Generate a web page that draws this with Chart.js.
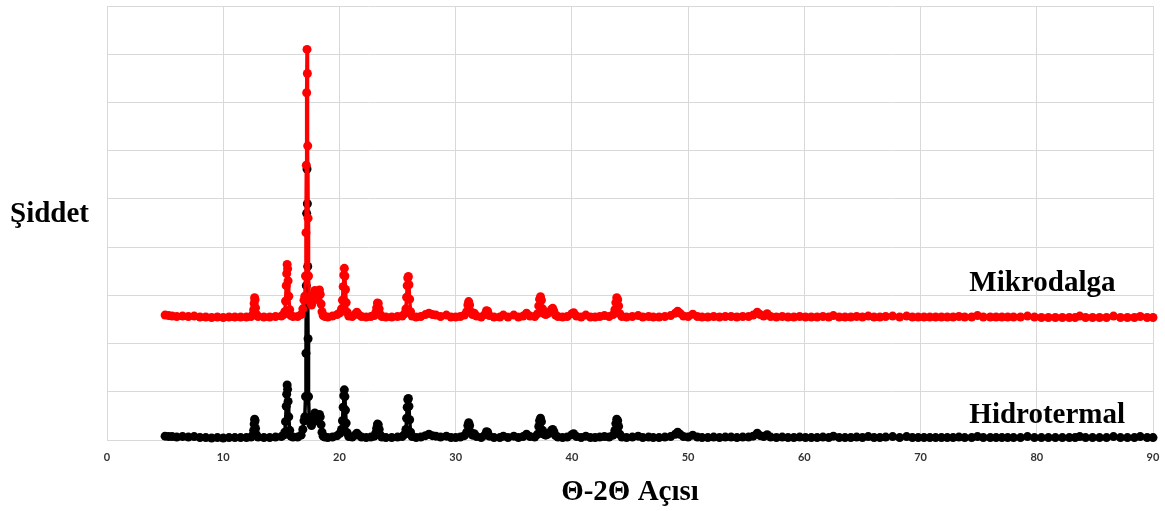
<!DOCTYPE html>
<html>
<head>
<meta charset="utf-8">
<script src="https://cdn.jsdelivr.net/npm/chart.js@4/dist/chart.umd.min.js"></script>
<style>
  html, body { margin: 0; padding: 0; background: #fff; }
  #wrap { width: 1165px; height: 511px; }
</style>
</head>
<body>
<div id="wrap"><canvas id="xrd" width="1165" height="511"></canvas></div>
<script>
// 2θ angles (shared by both patterns)
const angles = [
  5.0, 5.3, 5.6, 6.0, 6.5, 7.0, 7.5, 8.0, 8.5, 9.0, 9.5, 10.0, 10.5, 11.0, 11.5, 12.0, 12.4,
  12.55, 12.62, 12.66, 12.70, 12.74, 12.78, 12.85, 13.0,
  13.5, 14.0, 14.5, 15.0, 15.2,
  15.3, 15.36, 15.42, 15.46, 15.5, 15.54, 15.58, 15.64, 15.72, 15.82,
  16.0, 16.4, 16.7, 16.85,
  16.95, 17.02, 17.08, 17.12, 17.15, 17.18, 17.21, 17.24, 17.27, 17.3, 17.34, 17.4,
  17.5, 17.6, 17.7, 17.8, 17.88, 17.96, 18.04, 18.12, 18.2, 18.28, 18.35, 18.42, 18.5, 18.6, 18.75,
  19.0, 19.4, 19.8, 20.05,
  20.18, 20.26, 20.32, 20.37, 20.42, 20.47, 20.52, 20.58, 20.66, 20.8,
  21.1, 21.35, 21.5, 21.65, 21.9, 22.3, 22.7, 23.0,
  23.12, 23.2, 23.27, 23.34, 23.42, 23.52, 23.65,
  24.0, 24.5, 25.0, 25.4, 25.62,
  25.72, 25.78, 25.83, 25.88, 25.93, 25.98, 26.04, 26.12, 26.25,
  26.6, 27.0, 27.4, 27.7, 28.0, 28.3, 28.7, 29.2, 29.6, 30.0, 30.4, 30.75,
  30.95, 31.05, 31.12, 31.2, 31.3, 31.45, 31.6, 31.8, 32.2, 32.5, 32.65, 32.75, 32.9, 33.3,
  33.8, 34.1, 34.5, 35.0, 35.4, 35.8, 36.1, 36.4, 36.8,
  37.05, 37.15, 37.22, 37.3, 37.38, 37.48, 37.6, 37.75, 37.9, 38.1, 38.25, 38.35, 38.45, 38.6, 38.8,
  39.2, 39.6, 40.0, 40.15, 40.4, 40.8, 41.2, 41.6, 42.0, 42.4, 42.8, 43.2, 43.55,
  43.7, 43.78, 43.86, 43.94, 44.02, 44.12, 44.3,
  44.7, 45.2, 45.7, 46.1, 46.6, 47.0, 47.5, 48.0, 48.5, 48.9, 49.1, 49.3, 49.6, 50.0, 50.4, 50.8,
  51.2, 51.7, 52.2, 52.7, 53.2, 53.7, 54.2, 54.7, 55.2, 55.6, 55.95, 56.2, 56.5, 56.8, 57.1, 57.6, 58.1, 58.6, 59.1, 59.6, 60.1,
  60.6, 61.1, 61.6, 62.1, 62.5, 63.0, 63.5, 64.0, 64.5, 65.0, 65.5, 66.0, 66.5, 67.0, 67.6, 68.2, 68.8, 69.3, 69.8,
  70.3, 70.8, 71.3, 71.8, 72.3, 72.8, 73.3, 73.8, 74.4, 74.9, 75.4, 76.0, 76.5, 77.0, 77.5, 78.0, 78.6, 79.2, 79.8,
  80.4, 81.0, 81.6, 82.2, 82.8, 83.3, 83.7, 84.2, 84.8, 85.4, 86.0, 86.6, 87.2, 87.8, 88.4, 88.9, 89.5, 90.0
]

// intensity, hydrothermal sample (lower trace)
const hidrotermal = [
  0.08, 0.07, 0.07, 0.06, 0.07, 0.06, 0.07, 0.05, 0.05, 0.04, 0.05, 0.04, 0.05, 0.05, 0.05, 0.05, 0.06,
  0.10, 0.20, 0.33, 0.43, 0.40, 0.24, 0.11, 0.06,
  0.05, 0.05, 0.06, 0.07, 0.10,
  0.16, 0.38, 0.70, 0.95, 1.14, 1.05, 0.80, 0.48, 0.20, 0.08,
  0.06, 0.06, 0.10, 0.22,
  0.40, 0.48, 0.90, 1.80, 3.20, 4.70, 5.62, 4.90, 3.60, 2.10, 0.90, 0.45,
  0.35, 0.30, 0.38, 0.50, 0.56, 0.52, 0.40, 0.42, 0.50, 0.53, 0.48, 0.32, 0.16, 0.08, 0.06,
  0.05, 0.06, 0.09, 0.14,
  0.22, 0.40, 0.68, 0.92, 1.04, 0.90, 0.62, 0.35, 0.15, 0.07,
  0.06, 0.10, 0.14, 0.10, 0.06, 0.05, 0.06, 0.08,
  0.14, 0.24, 0.33, 0.32, 0.22, 0.10, 0.06,
  0.05, 0.05, 0.06, 0.07, 0.12,
  0.22, 0.45, 0.68, 0.84, 0.86, 0.70, 0.42, 0.16, 0.07,
  0.05, 0.06, 0.09, 0.12, 0.09, 0.08, 0.06, 0.08, 0.05, 0.05, 0.06, 0.09,
  0.16, 0.30, 0.36, 0.30, 0.16, 0.10, 0.13, 0.07, 0.05, 0.10, 0.17, 0.16, 0.08, 0.05,
  0.05, 0.08, 0.05, 0.08, 0.05, 0.07, 0.12, 0.07, 0.06,
  0.12, 0.28, 0.40, 0.45, 0.38, 0.20, 0.12, 0.10, 0.12, 0.15, 0.20, 0.22, 0.17, 0.09, 0.06,
  0.05, 0.06, 0.11, 0.13, 0.07, 0.05, 0.08, 0.05, 0.05, 0.06, 0.07, 0.06, 0.10,
  0.20, 0.34, 0.43, 0.40, 0.28, 0.12, 0.06,
  0.05, 0.06, 0.08, 0.05, 0.06, 0.05, 0.05, 0.06, 0.07, 0.12, 0.16, 0.12, 0.07, 0.06, 0.10, 0.06,
  0.05, 0.05, 0.06, 0.05, 0.06, 0.06, 0.05, 0.06, 0.06, 0.08, 0.14, 0.09, 0.07, 0.11, 0.06, 0.05, 0.06, 0.05, 0.05, 0.06, 0.05,
  0.05, 0.05, 0.06, 0.05, 0.08, 0.05, 0.05, 0.05, 0.06, 0.05, 0.07, 0.05, 0.05, 0.06, 0.07, 0.05, 0.07, 0.05, 0.05,
  0.05, 0.05, 0.05, 0.05, 0.05, 0.05, 0.06, 0.05, 0.05, 0.07, 0.05, 0.05, 0.05, 0.05, 0.05, 0.05, 0.05, 0.07, 0.05,
  0.05, 0.05, 0.05, 0.05, 0.05, 0.05, 0.07, 0.05, 0.05, 0.05, 0.05, 0.07, 0.05, 0.05, 0.05, 0.07, 0.05, 0.05
]

// intensity, microwave sample (upper trace)
const mikrodalga = [
  2.59, 2.58, 2.57, 2.56, 2.57, 2.56, 2.57, 2.55, 2.55, 2.54, 2.55, 2.54, 2.55, 2.55, 2.55, 2.55, 2.56,
  2.60, 2.70, 2.83, 2.95, 2.91, 2.74, 2.61, 2.56,
  2.55, 2.55, 2.56, 2.57, 2.60,
  2.66, 2.88, 3.20, 3.45, 3.64, 3.55, 3.30, 2.98, 2.70, 2.58,
  2.56, 2.56, 2.60, 2.72,
  2.90, 2.98, 3.40, 4.30, 5.70, 7.20, 8.10, 7.60, 6.10, 4.60, 3.40, 2.95,
  2.85, 2.80, 2.88, 3.02, 3.10, 3.05, 2.92, 2.95, 3.05, 3.11, 3.02, 2.82, 2.66, 2.58, 2.56,
  2.55, 2.57, 2.60, 2.64,
  2.72, 2.90, 3.18, 3.42, 3.56, 3.40, 3.12, 2.85, 2.65, 2.57,
  2.56, 2.61, 2.65, 2.60, 2.56, 2.55, 2.56, 2.58,
  2.64, 2.74, 2.84, 2.83, 2.72, 2.60, 2.56,
  2.55, 2.55, 2.56, 2.57, 2.62,
  2.72, 2.96, 3.20, 3.36, 3.39, 3.22, 2.92, 2.66, 2.57,
  2.55, 2.56, 2.60, 2.63, 2.60, 2.59, 2.56, 2.59, 2.55, 2.55, 2.56, 2.59,
  2.66, 2.80, 2.87, 2.80, 2.66, 2.60, 2.63, 2.57, 2.55, 2.60, 2.68, 2.67, 2.58, 2.55,
  2.55, 2.59, 2.55, 2.59, 2.55, 2.57, 2.63, 2.57, 2.56,
  2.62, 2.78, 2.92, 2.97, 2.90, 2.72, 2.62, 2.60, 2.62, 2.66, 2.71, 2.73, 2.67, 2.59, 2.56,
  2.55, 2.56, 2.62, 2.64, 2.57, 2.55, 2.59, 2.55, 2.55, 2.56, 2.58, 2.56, 2.60,
  2.70, 2.85, 2.95, 2.91, 2.78, 2.62, 2.56,
  2.55, 2.56, 2.58, 2.55, 2.56, 2.55, 2.55, 2.56, 2.58, 2.63, 2.67, 2.63, 2.57, 2.56, 2.61, 2.56,
  2.55, 2.55, 2.56, 2.55, 2.56, 2.56, 2.55, 2.56, 2.56, 2.59, 2.65, 2.60, 2.57, 2.62, 2.56, 2.55, 2.56, 2.55, 2.55, 2.56, 2.55,
  2.55, 2.55, 2.56, 2.55, 2.58, 2.55, 2.55, 2.55, 2.56, 2.55, 2.57, 2.55, 2.55, 2.56, 2.57, 2.55, 2.57, 2.55, 2.55,
  2.55, 2.55, 2.55, 2.55, 2.55, 2.55, 2.56, 2.55, 2.55, 2.58, 2.55, 2.55, 2.55, 2.55, 2.55, 2.55, 2.55, 2.57, 2.55,
  2.54, 2.54, 2.54, 2.54, 2.54, 2.54, 2.57, 2.54, 2.54, 2.54, 2.54, 2.57, 2.54, 2.54, 2.54, 2.56, 2.54, 2.54
]

const xTicks = [0, 10, 20, 30, 40, 50, 60, 70, 80, 90]
const seriesNames = ['Mikrodalga', 'Hidrotermal']

const serif = "'Liberation Serif', 'Times New Roman', serif"

const toPoints = vals => angles.map((a, i) => ({ x: a, y: vals[i] }))

// horizontal y title and the series names next to the traces
const labelsPlugin = {
  id: 'labels',
  afterDraw(chart) {
    const { ctx, scales } = chart
    ctx.save()
    ctx.fillStyle = '#000'
    ctx.font = 'bold 29px ' + serif
    ctx.textBaseline = 'alphabetic'
    ctx.textAlign = 'left'
    ctx.fillText('Şiddet', 10, 222)
    ctx.fillText(seriesNames[0], scales.x.getPixelForValue(74.2), scales.y.getPixelForValue(3.09))
    ctx.fillText(seriesNames[1], scales.x.getPixelForValue(74.2), scales.y.getPixelForValue(0.35))
    ctx.restore()
  }
}

const traceStyle = {
  borderWidth: 3.5,
  borderJoinStyle: 'round',
  borderCapStyle: 'round',
  pointRadius: 4.5,
  pointBorderWidth: 0,
  tension: 0,
  clip: false
}

new Chart(document.getElementById('xrd'), {
  type: 'line',
  data: {
    datasets: [
      {
        label: seriesNames[0],
        data: toPoints(mikrodalga),
        borderColor: '#ff0000',
        backgroundColor: '#ff0000',
        order: 0,
        ...traceStyle
      },
      {
        label: seriesNames[1],
        data: toPoints(hidrotermal),
        borderColor: '#000000',
        backgroundColor: '#000000',
        order: 1,
        ...traceStyle
      }
    ]
  },
  options: {
    responsive: false,
    animation: false,
    events: [],
    layout: { padding: { top: 6, right: 12, left: 0, bottom: 0 } },
    plugins: {
      legend: { display: false },
      tooltip: { enabled: false }
    },
    scales: {
      x: {
        type: 'linear',
        min: 0,
        max: 90,
        afterFit: s => {
          s.height = 71
          s.paddingLeft = 0
          s.paddingRight = 0
        },
        afterBuildTicks: s => { s.ticks = xTicks.map(v => ({ value: v })) },
        grid: { color: '#d9d9d9', drawTicks: false },
        border: { color: '#d9d9d9' },
        ticks: {
          padding: 11,
          maxRotation: 0,
          color: '#333',
          font: { family: 'Lato', weight: 'bold', size: 11 }
        },
        title: {
          display: true,
          text: 'Θ-2Θ Açısı',
          color: '#000',
          padding: { top: 0, bottom: 1 },
          font: { family: serif, weight: 'bold', size: 29 }
        }
      },
      y: {
        min: 0,
        max: 9,
        afterFit: s => { s.width = 107 },
        grid: { color: '#d9d9d9', drawTicks: false },
        border: { display: false },
        ticks: { stepSize: 1, display: false }
      }
    }
  },
  plugins: [labelsPlugin]
})
</script>
</body>
</html>
